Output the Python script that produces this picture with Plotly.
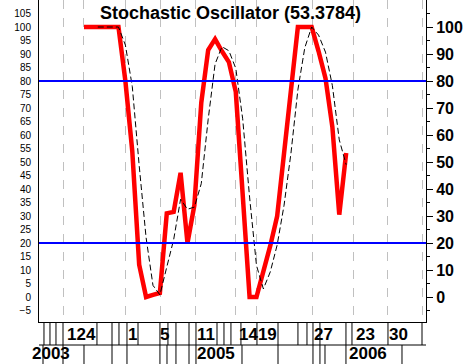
import plotly.graph_objects as go

# ---- data ----
bar_index = list(range(39))
pct_k = [100, 100, 100, 100, 100, 100, 80, 54, 12, 0, 0.8, 1.5, 31, 31.5, 46, 20, 34, 72,
         91.5, 95.5, 91, 87, 76, 35, 0, 0, 9, 19, 30, 53, 77, 100, 100, 100, 91, 81, 63,
         30.5, 53.3784]
d_index = list(range(2, 39))
pct_d = [100, 100, 100, 100, 93.3, 78, 48.7, 22, 4.3, 0.8, 11.1, 21.3, 36.2, 32.5, 33.3,
         42, 65.8, 86.3, 92.7, 91.2, 84.7, 66, 37, 11.7, 3, 9.3, 19.3, 34, 53.3, 76.7,
         92.3, 100, 97, 90.7, 78.3, 58.2, 49]

title_text = "Stochastic Oscillator (53.3784)"
levels = [80, 20]

grid_pos = [-3.04, 0, 6.01, 11.12, 16.19, 21.99, 25.03, 33.12, 39.06, 44.06, 49.13]
day_labels = ["124", "1", "5", "11", "1419", "27", "23", "30"]
day_label_pos = [-0.43, 7.03, 11.74, 17.68, 25.25, 34.78, 40.87, 45.58]
year_labels = ["2003", "2005", "2006"]
year_label_pos = [-4.78, 19.13, 41.16]
day_row_ticks = [-5.8, -4.93, -4.06, -3.04, 1.88, 4.06, 5.07, 6.23, 7.83, 11.01, 12.17,
                 13.33, 15.22, 16.23, 19.28, 20.29, 21.3, 22.75, 25.07, 28.12, 31.01,
                 32.32, 33.19, 34.2, 37.97, 38.84, 44.06, 48.99]
year_row_ticks = [-5.94, -3.04, 0, 4.06, 6.23, 11.01, 12.03, 13.33, 15.22, 16.23, 22.9,
                  28.12, 33.19, 34.2, 34.93, 37.97, 46.09]
left_ticks = list(range(-5, 106, 5))
right_ticks = list(range(0, 101, 10))
right_minor = list(range(-5, 106, 10))

X_RANGE = [-6.52, 49.57]
Y_RANGE = [-9.26, 110]
FONT = "Liberation Sans, Arial, sans-serif"

fig = go.Figure()
fig.add_trace(go.Scatter(x=bar_index, y=pct_k, mode="lines",
                         line=dict(color="#FF0000", width=4.5), hoverinfo="skip"))
fig.add_trace(go.Scatter(x=d_index, y=pct_d, mode="lines", yaxis="y2",
                         line=dict(color="black", width=1, dash="6px,3px"), hoverinfo="skip"))

shapes = []
for lv in levels:
    shapes.append(dict(type="line", xref="paper", x0=0, x1=1, yref="y", y0=lv, y1=lv,
                       line=dict(color="#0000FF", width=2), layer="above"))
row1 = -23 / 322
row2 = -0.14
for p in day_row_ticks:
    shapes.append(dict(type="line", xref="x", x0=p, x1=p, yref="paper", y0=0, y1=row1,
                       line=dict(color="black", width=1)))
for p in year_row_ticks:
    shapes.append(dict(type="line", xref="x", x0=p, x1=p, yref="paper", y0=row1, y1=row2,
                       line=dict(color="black", width=1)))
shapes.append(dict(type="line", xref="paper", x0=0, x1=1, yref="paper", y0=row1, y1=row1,
                   line=dict(color="black", width=1)))

annotations = [dict(text=title_text, xref="paper", yref="paper", x=0.496, y=0.96,
                    showarrow=False, xanchor="center", yanchor="middle",
                    font=dict(family=FONT, size=18, color="black", weight="bold"))]
for t, p in zip(day_labels, day_label_pos):
    annotations.append(dict(text=t, xref="x", yref="paper", x=p, y=-0.0373, showarrow=False,
                            xanchor="center", yanchor="middle",
                            font=dict(family=FONT, size=17, color="black", weight="bold")))
for t, p in zip(year_labels, year_label_pos):
    annotations.append(dict(text=t, xref="x", yref="paper", x=p, y=-0.0978, showarrow=False,
                            xanchor="center", yanchor="middle",
                            font=dict(family=FONT, size=17, color="black", weight="bold")))

fig.update_layout(
    width=464, height=364,
    margin=dict(l=39, r=38, t=0, b=42),
    paper_bgcolor="white", plot_bgcolor="white",
    showlegend=False,
    xaxis=dict(range=X_RANGE, tickmode="array", tickvals=grid_pos, showticklabels=False,
               ticks="", showgrid=True, gridcolor="#C0C0C0", griddash="dash", gridwidth=1,
               zeroline=False, showline=True, linecolor="black", linewidth=1, fixedrange=True),
    yaxis=dict(range=Y_RANGE, tickmode="array", tickvals=left_ticks, ticks="",
               ticklabelstandoff=5, showgrid=False, zeroline=False, showline=True,
               linecolor="black", linewidth=1,
               tickfont=dict(family=FONT, size=10, color="black")),
    yaxis2=dict(range=Y_RANGE, overlaying="y", side="right", tickmode="array",
                tickvals=right_ticks, ticks="outside", ticklen=6, tickcolor="black",
                showgrid=False, zeroline=False, showline=True, linecolor="black",
                linewidth=1,
                minor=dict(tickvals=right_minor, ticks="outside", ticklen=3,
                           tickcolor="black", showgrid=False),
                tickfont=dict(family=FONT, size=16, color="black", weight="bold")),
    shapes=shapes, annotations=annotations,
)

fig.write_html("out.html", config={"displayModeBar": False},
               post_script="document.body.style.margin='0';document.body.style.overflow='hidden';")
